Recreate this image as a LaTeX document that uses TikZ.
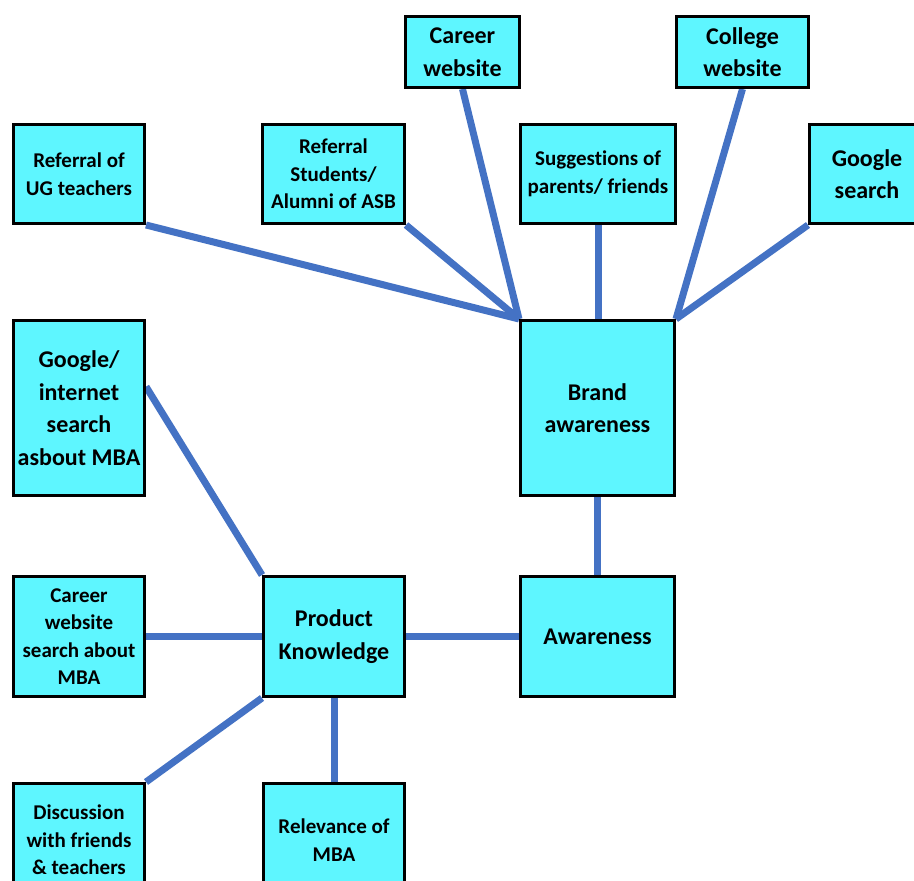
\documentclass[tikz,border=0pt]{standalone}
\usepackage{fontspec}
\setmainfont[Ligatures={NoCommon}]{Carlito}
\usetikzlibrary{calc}
\definecolor{boxfill}{RGB}{94,246,255}
\definecolor{linkblue}{RGB}{68,114,196}
\pgfdeclarelayer{paper}
\pgfdeclarelayer{background}
\pgfsetlayers{paper,background,main}
\tikzset{
  box/.style={draw=black, line width=3pt, fill=boxfill, inner sep=0pt,
    align=center, font=\bfseries\fontsize{24}{32.5}\selectfont},
  smallbox/.style={box, font=\bfseries\fontsize{21}{27.5}\selectfont},
  link/.style={draw=linkblue, line width=7pt}
}
\begin{document}
\begin{tikzpicture}[x=1pt,y=-1pt]
\useasboundingbox (0,0) rectangle (914,881);
\clip (0,0) rectangle (914,881);
\begin{pgfonlayer}{paper}
  \fill[white] (0,0) rectangle (914,881);
\end{pgfonlayer}

% top row of brand sources
\node[box, minimum width=114pt, minimum height=71pt] (career) at (462.5,52) {Career\\website};
\node[box, minimum width=132pt, minimum height=71pt] (college) at (742.5,52) {College\\website};
\node[smallbox, minimum width=131pt, minimum height=99pt] (ug) at (79,174) {Referral of\\UG teachers};
\node[smallbox, minimum width=142pt, minimum height=99pt] (refstud) at (333.5,174) {Referral\\Students/\\Alumni of ASB};
\node[smallbox, minimum width=155pt, minimum height=99pt] (sugg) at (598,174) {Suggestions of\\parents/ friends};
\node[box, minimum width=115pt, minimum height=99pt] (gsearch) at (867,174) {Google\\search};

% middle row
\node[box, minimum width=131pt, minimum height=175pt] (gi) at (79,408) {Google/\\internet\\search\\asbout MBA};
\node[box, minimum width=154pt, minimum height=175pt] (brand) at (597.5,408) {Brand\\awareness};

\node[smallbox, minimum width=131pt, minimum height=120pt] (cws) at (79,636.5) {Career\\website\\search about\\MBA};
\node[box, minimum width=141pt, minimum height=120pt] (product) at (334,636.5) {Product\\Knowledge};
\node[box, minimum width=154pt, minimum height=120pt] (aware) at (597.5,636.5) {Awareness};

% bottom row
\node[smallbox, minimum width=131pt, minimum height=113pt] (disc) at (79,840) {Discussion\\with friends\\\& teachers};
\node[smallbox, minimum width=141pt, minimum height=113pt] (rel) at (334,840) {Relevance of\\MBA};

\begin{pgfonlayer}{background}
  \draw[link] (ug.south east) -- (brand.north west);
  \draw[link] (refstud.south east) -- (brand.north west);
  \draw[link] (career.south) -- (brand.north west);
  \draw[link] (sugg.south) -- (sugg.south |- brand.north);
  \draw[link] (college.south) -- (brand.north east);
  \draw[link] (gsearch.south west) -- (brand.north east);
  \draw[link] (brand.south) -- (aware.north);
  \draw[link] (aware.west) -- (product.east);
  \draw[link] ($(gi.north east)!0.38!(gi.south east)$) -- (product.north west);
  \draw[link] (cws.east) -- (product.west);
  \draw[link] (product.south west) -- (disc.north east);
  \draw[link] (product.south) -- (rel.north);
\end{pgfonlayer}
\end{tikzpicture}
\end{document}
